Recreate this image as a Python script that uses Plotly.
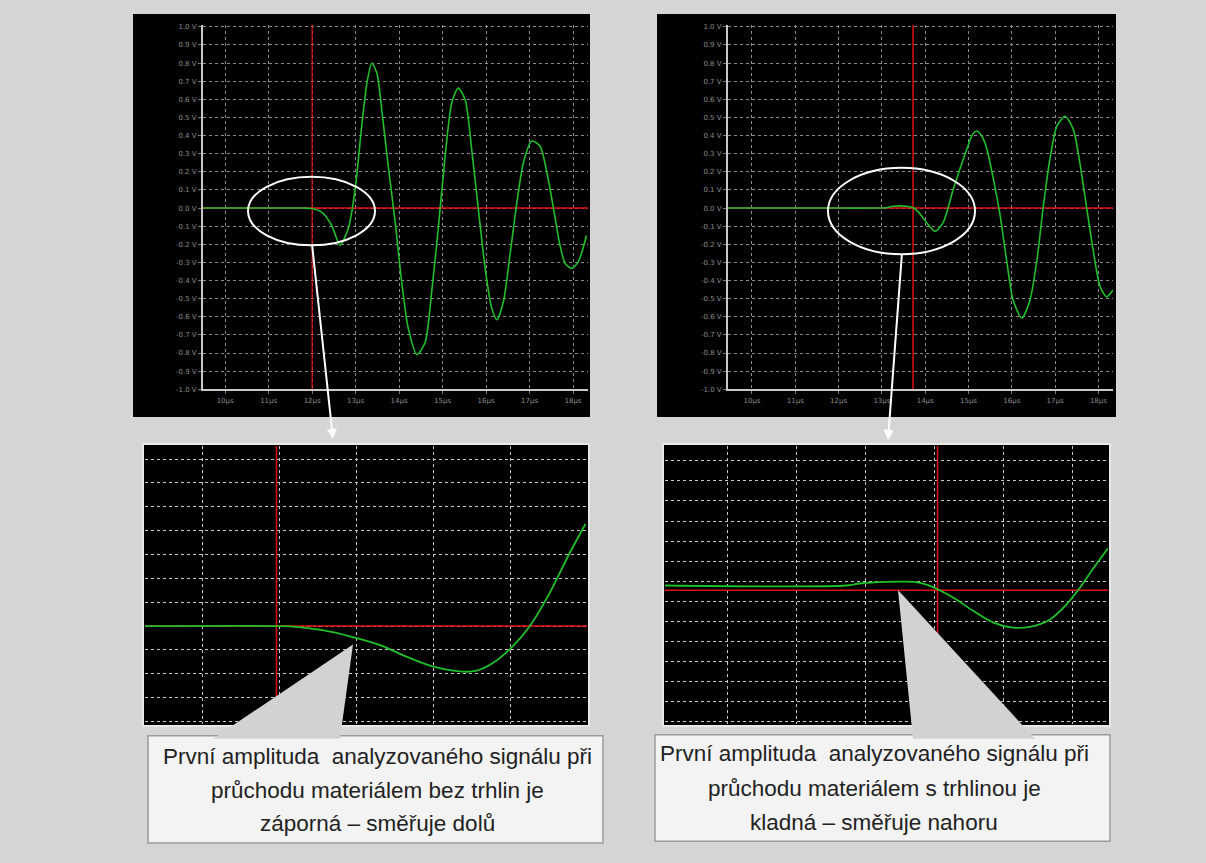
import plotly.graph_objects as go

W, H = 1206, 863

# ---------------- data ----------------
# top-left oscillogram: material without cracks (time in µs, amplitude in V)
tl_time = [9.49, 11.0, 11.8, 11.99, 12.22, 12.45, 12.64, 12.83, 12.99, 13.14, 13.26, 13.37,
           13.49, 13.60, 13.75, 13.91, 14.06, 14.21, 14.41, 14.60, 14.75, 14.90, 15.06,
           15.21, 15.36, 15.52, 15.67, 15.82, 15.98, 16.13, 16.25, 16.40, 16.55, 16.71,
           16.86, 17.05, 17.24, 17.40, 17.55, 17.70, 17.82, 17.97, 18.12, 18.31]
tl_volt = [0.0, 0.0, 0.0, -0.002, -0.023, -0.096, -0.205, -0.114, 0.105, 0.452, 0.689, 0.799,
           0.744, 0.544, 0.233, -0.078, -0.407, -0.662, -0.808, -0.740, -0.461, -0.114, 0.288,
           0.580, 0.662, 0.598, 0.324, 0.0, -0.333, -0.552, -0.616, -0.516, -0.260, 0.032,
           0.251, 0.370, 0.342, 0.196, 0.0, -0.205, -0.306, -0.333, -0.297, -0.151]
tl_cursor_t = 12.0

# top-right oscillogram: material with a crack
tr_time = [9.45, 12.0, 12.9, 13.11, 13.26, 13.57, 13.73, 13.88, 14.03, 14.23, 14.42, 14.65,
           14.96, 15.08, 15.19, 15.30, 15.42, 15.57, 15.73, 15.88, 16.03, 16.23, 16.42, 16.58,
           16.73, 16.88, 17.04, 17.23, 17.42, 17.57, 17.73, 17.88, 18.04, 18.19, 18.34]
tr_volt = [0.0, 0.0, 0.0, 0.002, 0.010, 0.010, 0.0, -0.032, -0.080, -0.128, -0.077, 0.105,
           0.324, 0.400, 0.425, 0.400, 0.330, 0.165, -0.040, -0.288, -0.507, -0.607, -0.507,
           -0.288, 0.014, 0.270, 0.452, 0.507, 0.434, 0.251, 0.0, -0.233, -0.434, -0.489, -0.452]
tr_cursor_t = 13.72

# bottom detail views (in screen divisions)
bl_x = [-0.75, 0.96, 1.22, 1.56, 1.93, 2.30, 2.65, 2.99, 3.34, 3.55, 3.77, 4.03, 4.25, 4.51, 4.77, 4.98]
bl_y = [0.0, 0.0, -0.03, -0.17, -0.44, -0.79, -1.28, -1.69, -1.90, -1.88, -1.56, -0.86, -0.03, 1.36, 3.03, 4.28]
bl_cursor_x = 0.96

br_x = [-0.91, 1.72, 1.91, 2.30, 2.69, 2.88, 3.05, 3.27, 3.56, 3.85, 4.13, 4.38, 4.67, 4.91, 5.10, 5.30, 5.51]
br_y = [0.23, 0.23, 0.33, 0.41, 0.41, 0.28, 0.03, -0.38, -1.04, -1.62, -1.87, -1.83, -1.46, -0.71, 0.11, 1.10, 2.09]
br_cursor_x = 3.04

volt_ticks = [1.0, 0.9, 0.8, 0.7, 0.6, 0.5, 0.4, 0.3, 0.2, 0.1, 0.0,
              -0.1, -0.2, -0.3, -0.4, -0.5, -0.6, -0.7, -0.8, -0.9, -1.0]
volt_labels = ["1.0 V", "0.9 V", "0.8 V", "0.7 V", "0.6 V", "0.5 V", "0.4 V", "0.3 V", "0.2 V",
               "0.1 V", "0.0 V", "-0.1 V", "-0.2 V", "-0.3 V", "-0.4 V", "-0.5 V", "-0.6 V",
               "-0.7 V", "-0.8 V", "-0.9 V", "-1.0 V"]
time_ticks = [10, 11, 12, 13, 14, 15, 16, 17, 18]
time_labels = ["10µs", "11µs", "12µs", "13µs", "14µs", "15µs", "16µs", "17µs", "18µs"]

text_left = ["První amplituda  analyzovaného signálu při",
             "průchodu materiálem bez trhlin je",
             "záporná – směřuje dolů"]
text_right = ["První amplituda  analyzovaného signálu při",
              "průchodu materiálem s trhlinou je",
              "kladná – směřuje nahoru"]

# ---------------- helpers ----------------
def px(x):
    return x / W

def py(y):
    return 1 - y / H

GREEN = "#1fbf2a"
RED = "#e01010"

fig = go.Figure()

def add_line(x, y, color, width, xa, ya, shape="linear", smoothing=0.7):
    fig.add_trace(go.Scatter(x=x, y=y, mode="lines",
                             line=dict(color=color, width=width, shape=shape, smoothing=smoothing),
                             xaxis=xa, yaxis=ya, hoverinfo="skip", showlegend=False))

# cursors (red) then signal (green)
add_line([9.49, 18.345], [0, 0], RED, 1.5, "x", "y")
add_line([tl_cursor_t, tl_cursor_t], [-1.0, 1.011], RED, 1.2, "x", "y")
add_line(tl_time, tl_volt, GREEN, 1.6, "x", "y", "spline", 0.7)

add_line([9.446, 18.337], [0, 0], RED, 1.5, "x2", "y2")
add_line([tr_cursor_t, tr_cursor_t], [-1.0, 1.011], RED, 1.5, "x2", "y2")
add_line(tr_time, tr_volt, GREEN, 1.6, "x2", "y2", "spline", 0.7)

add_line([-0.75, 5.0], [0, 0], RED, 1.5, "x3", "y3")
add_line([bl_cursor_x, bl_cursor_x], [-4.1, 7.55], RED, 1.5, "x3", "y3")
add_line(bl_x, bl_y, GREEN, 1.8, "x3", "y3", "spline", 0.9)

add_line([-0.91, 5.51], [0, 0], RED, 1.5, "x4", "y4")
add_line([br_cursor_x, br_cursor_x], [-6.67, 7.19], RED, 1.5, "x4", "y4")
add_line(br_x, br_y, GREEN, 1.8, "x4", "y4", "spline", 0.9)

tickfont = dict(family="DejaVu Sans", size=7, color="#8c8c8c")
top_x_common = dict(tickvals=time_ticks, ticktext=time_labels, showgrid=True,
                    gridcolor="#8a8a8a", griddash="dot", gridwidth=1,
                    showline=True, linecolor="#c8c8c8", linewidth=2, zeroline=False,
                    ticks="outside", ticklen=3, tickcolor="#777", tickfont=tickfont,
                    fixedrange=True)
top_y_common = dict(tickvals=volt_ticks, ticktext=volt_labels, showgrid=True,
                    gridcolor="#8a8a8a", griddash="dot", gridwidth=1,
                    showline=True, linecolor="#c8c8c8", linewidth=2, zeroline=False,
                    ticks="outside", ticklen=3, tickcolor="#777", tickfont=tickfont,
                    range=[-1.0, 1.011], fixedrange=True)
det_common = dict(showticklabels=False, showgrid=True, gridcolor="#c8c8c8",
                  griddash="dot", gridwidth=1, showline=False, zeroline=False,
                  ticks="", dtick=1, fixedrange=True)

fig.update_layout(
    width=W, height=H, margin=dict(l=0, r=0, t=0, b=0),
    paper_bgcolor="#d5d5d5", plot_bgcolor="black", showlegend=False,
    xaxis=dict(domain=[px(203), px(588)], range=[9.49, 18.345], anchor="y", **top_x_common),
    yaxis=dict(domain=[py(390), py(23)], anchor="x", **top_y_common),
    xaxis2=dict(domain=[px(728), px(1113)], range=[9.446, 18.337], anchor="y2", **top_x_common),
    yaxis2=dict(domain=[py(390), py(23)], anchor="x2", **top_y_common),
    xaxis3=dict(domain=[px(145), px(587)], range=[-0.75, 5.0], anchor="y3", tick0=0, **det_common),
    yaxis3=dict(domain=[py(727), py(447)], range=[-4.1, 7.55], anchor="x3", tick0=0, **det_common),
    xaxis4=dict(domain=[px(665), px(1108)], range=[-0.91, 5.51], anchor="y4", tick0=0, **det_common),
    yaxis4=dict(domain=[py(727), py(447)], range=[-6.67, 7.19], anchor="x4", tick0=0.446, **det_common),
)

shapes = []

def rect(x0, y0, x1, y1, fill, line_color=None, lw=0, layer="below"):
    shapes.append(dict(type="rect", xref="paper", yref="paper",
                       x0=px(x0), x1=px(x1), y0=py(y1), y1=py(y0),
                       fillcolor=fill, line=dict(color=line_color or fill, width=lw), layer=layer))

# black oscilloscope panels
rect(133, 12, 590, 418, "black")
rect(657, 12, 1116, 418, "black")
rect(143, 445, 589, 729, "black", "#e8e8e8", 2)
rect(663, 445, 1110, 729, "black", "#e8e8e8", 2)

# ellipses marking the first amplitude
for (x0, y0, x1, y1) in [(248, 176, 375, 245), (828, 167, 975, 254)]:
    shapes.append(dict(type="circle", xref="paper", yref="paper",
                       x0=px(x0), x1=px(x1), y0=py(y1), y1=py(y0),
                       line=dict(color="white", width=2), layer="above"))

# callout boxes
rect(148, 739, 603, 847, "#f3f3f3", "#9c9c9c", 1.5, "above")
rect(655, 738, 1110, 845, "#f3f3f3", "#9c9c9c", 1.5, "above")

def wedge(pts):
    d = "M " + " L ".join(f"{px(a):.5f},{py(b):.5f}" for a, b in pts) + " Z"
    shapes.append(dict(type="path", xref="paper", yref="paper", path=d,
                       fillcolor="#d2d2d2", line=dict(width=0), layer="above"))

wedge([(353, 647), (213, 742), (340, 742)])
wedge([(898, 592), (913, 742), (1035, 742)])

fig.update_layout(shapes=shapes)

ann = []
# pointer arrows from ellipses to detail views
ann.append(dict(x=px(333), y=py(440), xref="paper", yref="paper", ax=-21, ay=-195,
                text="", showarrow=True, arrowhead=2, arrowsize=1, arrowwidth=2,
                arrowcolor="white", standoff=0))
ann.append(dict(x=px(888), y=py(441), xref="paper", yref="paper", ax=14, ay=-187,
                text="", showarrow=True, arrowhead=2, arrowsize=1, arrowwidth=2,
                arrowcolor="white", standoff=0))

font_txt = dict(family="Liberation Sans Narrow, Arial Narrow, Liberation Sans, Arial",
                size=22.5, color="#222222")
for lines, cx, ys in [(text_left, 377, [760, 794, 827]), (text_right, 874, [757, 792, 826])]:
    for t, yy in zip(lines, ys):
        ann.append(dict(x=px(cx), y=py(yy), xref="paper", yref="paper", text=t,
                        showarrow=False, xanchor="center", yanchor="middle", font=font_txt))

fig.update_layout(annotations=ann)

fig.write_html("out.html", include_plotlyjs=True, config={"displayModeBar": False},
               post_script="document.body.style.margin='0';document.body.style.overflow='hidden';")
